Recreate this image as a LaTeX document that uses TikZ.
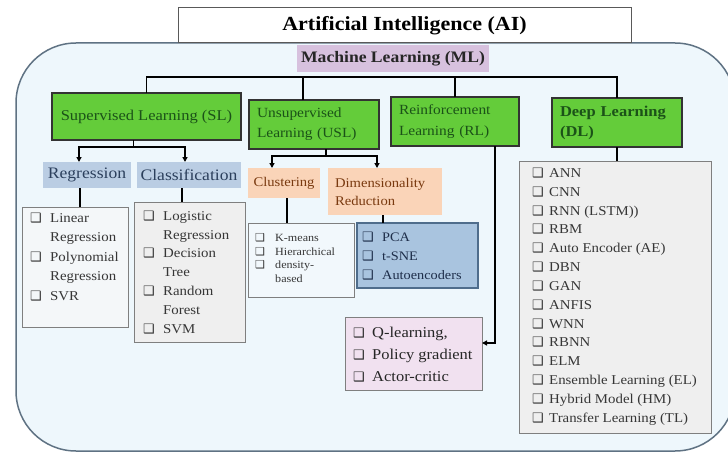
\documentclass[tikz,border=0pt]{standalone}
\usepackage{fontspec}
\setmainfont[FakeStretch=1.1]{Liberation Serif}
\newfontfamily\dejavu{DejaVu Sans}
\usetikzlibrary{arrows.meta}
\definecolor{bgblue}{HTML}{EEF7FC}
\definecolor{bgline}{HTML}{5F7283}
\definecolor{mlfill}{HTML}{D7C1DE}
\definecolor{grn}{HTML}{64CC3A}
\definecolor{grntxt}{HTML}{1B5218}
\definecolor{regfill}{HTML}{BACDE3}
\definecolor{regtxt}{HTML}{2B3F5C}
\definecolor{clfill}{HTML}{FAD4B8}
\definecolor{cltxt}{HTML}{7A3A10}
\definecolor{listfill}{HTML}{EFEFEF}
\definecolor{linfill}{HTML}{F4F7F9}
\definecolor{listline}{HTML}{7F7F7F}
\definecolor{kfill}{HTML}{F2F8FC}
\definecolor{pcafill}{HTML}{A9C4DF}
\definecolor{pcaline}{HTML}{4F6D8C}
\definecolor{pcatxt}{HTML}{1E2E4A}
\definecolor{rlfill}{HTML}{F1E1F0}
\definecolor{listtxt}{HTML}{363636}
\newcommand\cbs{13}
\newcommand\itm[2][20pt]{\makebox[#1][l]{\dejavu\fontsize{\cbs}{\cbs}\selectfont ❑}#2}
\newcommand\cont[2][20pt]{\hspace*{#1}#2}
\tikzset{
  conn/.style={draw=black, line width=1.6pt},
  arr/.style={conn, -{Triangle[length=5pt,width=5pt]}},
  box/.style={anchor=north west, inner sep=0pt, outer sep=0pt},
  greenbox/.style={box, draw=black!80, line width=1.4pt, fill=grn, text=grntxt},
  lbox/.style={box, draw=listline, line width=1pt},
  lst/.style={anchor=north west, inner sep=0pt, align=left, text=listtxt},
}
\begin{document}
\begin{tikzpicture}[x=1pt,y=-1pt]
\useasboundingbox (0,0) rectangle (728,452);
\fill[white] (0,0) rectangle (728,452);
\draw[draw=bgline, line width=1.5pt, fill=bgblue, rounded corners=60pt] (16,43) rectangle (735,451);
\node[box, draw=black!65, line width=1pt, fill=white, minimum width=453pt, minimum height=35pt,
  font=\fontsize{20}{24}\selectfont\bfseries] (ai) at (178,8) {Artificial Intelligence (AI)};
\node[box, fill=mlfill, minimum width=192pt, minimum height=27pt, text=black!85,
  font=\fontsize{16}{19}\selectfont\bfseries] (ml) at (297,45) {Machine Learning (ML)};
% green level
\node[greenbox, minimum width=189pt, minimum height=47pt, font=\fontsize{15}{18}\selectfont] (sl) at (52,93) {Supervised Learning (SL)};
\node[greenbox, minimum width=130pt, minimum height=49pt, text width=114pt, inner xsep=8pt, align=left,
  font=\fontsize{14}{20}\selectfont] (usl) at (249,100) {Unsupervised\\Learning (USL)};
\node[greenbox, minimum width=128pt, minimum height=49pt, text width=112pt, inner xsep=8pt, align=left,
  font=\fontsize{14}{21}\selectfont] (rl) at (391,97) {Reinforcement\\Learning (RL)};
\node[greenbox, minimum width=130pt, minimum height=49pt, text width=114pt, inner xsep=8pt, align=left,
  font=\fontsize{15}{20}\selectfont\bfseries] (dl) at (552,98) {Deep Learning\\(DL)};
% second level
\node[box, fill=regfill, text=regtxt, minimum width=88pt, minimum height=26pt, font=\fontsize{16}{19}\selectfont] (reg) at (43,162) {Regression};
\node[box, fill=regfill, text=regtxt, minimum width=104pt, minimum height=26pt, font=\fontsize{16}{19}\selectfont] (cls) at (137,162) {Classification};
\node[box, fill=clfill, text=cltxt, minimum width=72pt, minimum height=30pt, font=\fontsize{13.3}{16}\selectfont] (clu) at (248,168) {Clustering};
\node[box, fill=clfill, text=cltxt, minimum width=114pt, minimum height=47pt, text width=100pt, inner xsep=7pt, align=left,
  font=\fontsize{13.3}{18}\selectfont] (dim) at (328,168) {Dimensionality\\Reduction};
% list boxes
\node[lbox, fill=linfill, minimum width=106pt, minimum height=120pt] (linbox) at (22,207) {};
\node[lbox, fill=listfill, minimum width=111pt, minimum height=140pt] (logbox) at (134,202) {};
\node[lbox, fill=kfill, minimum width=106pt, minimum height=74pt] (kbox) at (248,223) {};
\node[box, draw=pcaline, line width=1.2pt, fill=pcafill, minimum width=121pt, minimum height=65pt] (pcabox) at (357,223) {};
\node[lbox, fill=rlfill, minimum width=137pt, minimum height=73pt] (rlbox) at (345,317) {};
\node[lbox, fill=listfill, minimum width=192pt, minimum height=272pt] (dlbox) at (519,161) {};
% list texts
\node[lst, font=\fontsize{13.5}{19.5}\selectfont] (lintxt) at (30,208.4)
  {\strut\itm{Linear}\\\cont{Regression}\\\itm{Polynomial}\\\cont{Regression}\\\itm{SVR}};
\node[lst, font=\fontsize{13.5}{18.8}\selectfont] (logtxt) at (143,206.9)
  {\strut\itm{Logistic}\\\cont{Regression}\\\itm{Decision}\\\cont{Tree}\\\itm{Random}\\\cont{Forest}\\\itm{SVM}};
\node[lst, font=\fontsize{11}{13.5}\selectfont\def\cbs{11}] (ktxt) at (255,231.9)
  {\strut\itm{K-means}\\\itm{Hierarchical}\\\itm{density-}\\\cont{based}};
\node[lst, text=pcatxt, font=\fontsize{13}{19}\selectfont] (pcatxt) at (362,227.6)
  {\strut\itm{PCA}\\\itm{t-SNE}\\\itm{Autoencoders}};
\node[lst, text=black!85, font=\fontsize{15}{22}\selectfont] (rltxt) at (353,322.1)
  {\strut\itm[19pt]{Q-learning,}\\\itm[19pt]{Policy gradient}\\\itm[19pt]{Actor-critic}};
\node[lst, font=\fontsize{13.5}{18.85}\selectfont] (dltxt) at (532,163.9)
  {\strut\itm[17pt]{ANN}\\\itm[17pt]{CNN}\\\itm[17pt]{RNN (LSTM))}\\\itm[17pt]{RBM}\\\itm[17pt]{Auto Encoder (AE)}\\
   \itm[17pt]{DBN}\\\itm[17pt]{GAN}\\\itm[17pt]{ANFIS}\\\itm[17pt]{WNN}\\\itm[17pt]{RBNN}\\\itm[17pt]{ELM}\\
   \itm[17pt]{Ensemble Learning (EL)}\\\itm[17pt]{Hybrid Model (HM)}\\\itm[17pt]{Transfer Learning (TL)}};
% connectors
\coordinate (bar) at (0,77);
\draw[conn] (sl.north) |- (bar -| dl.north) -- (dl.north);
\draw[conn] ([xshift=-11pt]usl.north) -- ([xshift=-11pt]usl.north |- bar);
\draw[conn] (rl.north) -- (rl.north |- bar);
\draw[conn] ([xshift=-13pt]sl.south) -- ++(0,7) coordinate (j1);
\draw[arr] (j1) -| ([xshift=-8pt]reg.north);
\draw[arr] (j1) -| ([xshift=-4pt]cls.north);
\draw[conn] ([xshift=-7pt]reg.south) -- ([xshift=-7pt]reg.south |- linbox.north);
\draw[conn] ([xshift=-7pt]cls.south) -- ([xshift=-7pt]cls.south |- logbox.north);
\draw[conn] ([xshift=12pt]usl.south) -- ++(0,7) coordinate (j2);
\draw[arr] (j2) -| ([xshift=-12pt]clu.north);
\draw[arr] (j2) -| ([xshift=-8pt]dim.north);
\draw[conn] ([xshift=3pt]clu.south) -- ([xshift=3pt]clu.south |- kbox.north);
\draw[conn] ([xshift=-2pt]dim.south) -- ([xshift=-2pt]dim.south |- pcabox.north);
\draw[arr] ([xshift=40pt]rl.south) |- ([yshift=10.5pt]rlbox.east);
\draw[conn] (dl.south) -- (dl.south |- dlbox.north);
\end{tikzpicture}
\end{document}
